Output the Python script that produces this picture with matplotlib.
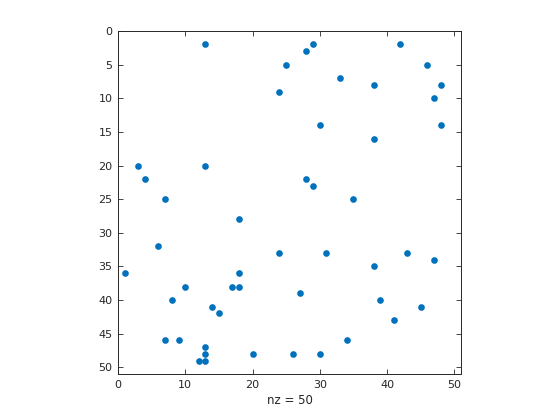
import numpy as np
import matplotlib
matplotlib.use('Agg')
import matplotlib.pyplot as plt

# nonzero entries of the sparse matrix (column, row)
cols = [13, 25, 28, 29, 42, 46, 48, 47, 48, 33, 38, 24, 30, 38, 3, 13, 4, 7, 28, 29,
        35, 18, 6, 24, 31, 38, 43, 47, 1, 18, 10, 17, 18, 27, 8, 39, 14, 15, 45, 41,
        7, 9, 34, 13, 13, 20, 26, 30, 12, 13]
rows = [2, 5, 3, 2, 2, 5, 8, 10, 14, 7, 8, 9, 14, 16, 20, 20, 22, 25, 22, 23,
        25, 28, 32, 33, 33, 35, 33, 34, 36, 36, 38, 38, 38, 39, 40, 40, 41, 42, 41, 43,
        46, 46, 46, 47, 48, 48, 48, 48, 49, 49]
n = 50
xticks = [0, 10, 20, 30, 40, 50]
yticks = [0, 5, 10, 15, 20, 25, 30, 35, 40, 45, 50]

gray = (0.15, 0.15, 0.15)
plt.rcParams['font.family'] = 'DejaVu Sans'

fig = plt.figure(figsize=(5.6, 4.2), dpi=100)
ax = fig.add_axes([118 / 560, 46 / 420, 343 / 560, 343 / 420])

ax.plot(cols, rows, linestyle='none', marker='o', markersize=4.8,
        color=(0, 0.447, 0.741), markeredgewidth=0)

ax.set_xlim(0, n + 1)
ax.set_ylim(n + 1, 0)
ax.set_xticks(xticks)
ax.set_yticks(yticks)
ax.tick_params(direction='in', length=3.5, width=0.6, colors=gray,
               labelsize=8, top=True, right=True, pad=4)
for s in ax.spines.values():
    s.set_linewidth(0.7)
    s.set_color(gray)
ax.set_xlabel(f'nz = {len(cols)}', fontsize=8.5, color=gray, labelpad=3)

fig.savefig('out.png', dpi=100)
